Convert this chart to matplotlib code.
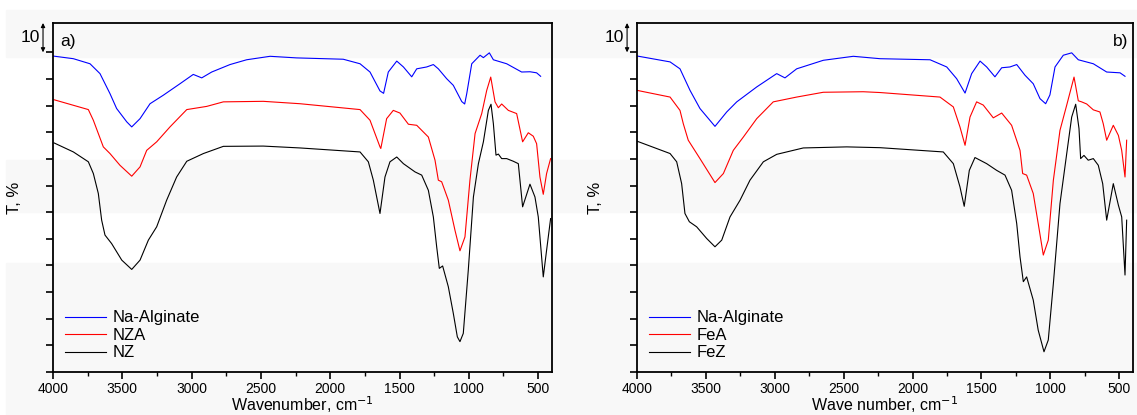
import matplotlib
matplotlib.use("Agg")
import matplotlib.pyplot as plt
from matplotlib.patches import Rectangle
from matplotlib.ticker import MultipleLocator

# ---- panel a) ----
wn_alg_a = [4000, 3853, 3733, 3661, 3589, 3541, 3468, 3432, 3372, 3300, 3204, 3084, 2988, 2927,
            2855, 2723, 2603, 2434, 2242, 1906, 1785, 1713, 1641, 1615, 1581, 1520, 1472, 1412,
            1376, 1304, 1256, 1220, 1160, 1112, 1051, 1030, 1015, 979, 919, 895, 852, 823, 727,
            619, 559, 511, 482]
t_alg_a = [118.6, 117.6, 115.7, 112.0, 104.5, 98.9, 93.9, 92.0, 95.1, 100.7, 103.9, 108.2, 111.7,
           110.4, 112.6, 115.4, 117.2, 118.5, 117.9, 117.4, 115.7, 112.6, 105.5, 104.6, 112.6,
           116.7, 114.5, 110.8, 113.8, 114.5, 115.4, 113.8, 110.1, 107.6, 101.5, 100.6, 104.5,
           115.7, 118.9, 118.0, 119.8, 117.2, 115.7, 112.6, 112.7, 112.3, 111.0]

wn_nza = [3993, 3745, 3709, 3637, 3589, 3517, 3432, 3372, 3324, 3252, 3156, 3035, 2891, 2771,
          2483, 2218, 1785, 1713, 1641, 1635, 1593, 1545, 1497, 1436, 1376, 1292, 1244, 1220,
          1196, 1148, 1100, 1064, 1028, 992, 955, 907, 871, 842, 811, 787, 763, 715, 655, 612,
          571, 535, 511, 487, 463, 439, 410]
t_nza = [102.2, 98.5, 94.5, 84.5, 82.0, 77.6, 73.5, 77.0, 83.2, 86.4, 92.0, 98.5, 99.7, 101.4,
         101.6, 100.7, 98.5, 94.5, 84.5, 83.9, 95.1, 98.2, 97.2, 93.0, 92.6, 88.2, 79.5, 72.0,
         71.4, 64.5, 53.2, 45.5, 50.7, 72.0, 89.5, 97.0, 105.7, 110.7, 101.4, 99.2, 100.6, 98.2,
         97.0, 86.4, 89.8, 88.5, 85.7, 73.2, 66.7, 74.5, 80.1]

wn_nz = [3993, 3853, 3745, 3709, 3673, 3649, 3625, 3577, 3504, 3432, 3372, 3312, 3252, 3180,
         3108, 3035, 2915, 2771, 2483, 2218, 1785, 1725, 1689, 1641, 1605, 1569, 1520, 1472,
         1388, 1340, 1292, 1256, 1232, 1213, 1189, 1148, 1112, 1083, 1064, 1040, 1004, 967, 931,
         895, 859, 840, 823, 804, 787, 763, 727, 679, 643, 612, 559, 523, 499, 463, 439, 410]
t_nz = [86.0, 82.6, 78.9, 74.5, 67.0, 57.0, 51.4, 48.2, 42.0, 38.5, 42.0, 49.5, 54.5, 64.5, 73.2,
        79.1, 82.0, 84.7, 84.8, 84.1, 82.6, 78.9, 72.0, 59.5, 73.2, 78.9, 80.7, 78.2, 75.1, 73.9,
        68.2, 58.2, 47.0, 38.9, 39.8, 32.0, 22.0, 13.2, 11.4, 14.5, 38.2, 65.7, 78.2, 86.4, 98.2,
        100.5, 93.2, 81.4, 81.8, 80.1, 80.1, 79.1, 78.2, 62.0, 70.5, 65.7, 58.2, 35.7, 45.7, 57.6]

# ---- panel b) ----
wn_alg_b = [3998, 3760, 3688, 3615, 3543, 3434, 3349, 3276, 3131, 2986, 2926, 2841, 2648, 2430,
            2236, 1873, 1752, 1680, 1619, 1571, 1510, 1462, 1402, 1353, 1293, 1244, 1184, 1124,
            1075, 1034, 1003, 966, 906, 845, 797, 688, 591, 494, 458]
t_alg_b = [118.6, 116.4, 113.8, 105.7, 98.9, 92.2, 97.6, 101.4, 107.0, 112.0, 110.4, 113.8,
           117.0, 118.5, 117.6, 117.2, 114.5, 110.1, 104.7, 112.0, 116.7, 114.5, 110.8, 114.2,
           114.5, 115.4, 111.4, 108.2, 102.6, 100.7, 104.0, 114.5, 118.9, 119.8, 117.2, 115.7,
           112.6, 112.3, 111.0]

wn_fea = [3998, 3760, 3688, 3664, 3628, 3543, 3434, 3373, 3301, 3228, 3131, 3011, 2841, 2648,
          2358, 2236, 1801, 1704, 1656, 1619, 1583, 1535, 1487, 1414, 1353, 1281, 1220, 1201,
          1172, 1124, 1080, 1051, 1015, 978, 930, 881, 828, 797, 773, 736, 688, 640, 616, 591,
          543, 506, 482, 458, 446]
t_fea = [105.7, 103.2, 98.2, 93.2, 87.0, 80.1, 71.1, 74.5, 83.2, 88.2, 95.1, 101.4, 103.2, 105.0,
         105.2, 104.9, 103.2, 99.5, 92.0, 85.1, 95.7, 101.4, 100.2, 95.4, 97.2, 92.6, 83.2, 74.5,
         73.9, 67.0, 53.2, 43.9, 49.5, 72.0, 90.7, 100.2, 110.7, 101.8, 101.4, 100.6, 98.4, 97.6,
         93.2, 87.0, 92.6, 88.8, 83.2, 73.2, 87.0]

wn_fez = [3998, 3760, 3712, 3676, 3652, 3620, 3567, 3494, 3434, 3385, 3325, 3252, 3180, 3083,
          2986, 2793, 2478, 2236, 1777, 1704, 1656, 1625, 1588, 1547, 1462, 1390, 1329, 1281,
          1244, 1220, 1196, 1172, 1124, 1088, 1046, 1015, 978, 930, 881, 845, 816, 792, 780, 756,
          725, 688, 652, 620, 591, 543, 506, 482, 458, 446]
t_fez = [86.6, 82.0, 78.9, 70.7, 59.5, 56.4, 54.5, 50.1, 47.0, 49.5, 58.2, 64.5, 72.0, 78.9, 81.7,
         84.1, 84.5, 84.2, 82.6, 78.2, 69.5, 62.2, 75.7, 80.5, 78.2, 75.7, 73.9, 68.2, 55.7, 43.2,
         33.9, 35.7, 27.0, 15.7, 7.6, 12.0, 33.2, 63.2, 82.0, 95.7, 100.5, 91.4, 80.1, 81.3, 79.5,
         80.1, 77.6, 70.7, 57.0, 70.7, 62.6, 58.2, 36.4, 57.0]

plt.rcParams['font.family'] = ['Liberation Sans', 'DejaVu Sans']

W, H = 1137, 415
fig = plt.figure(figsize=(W / 100, H / 100), dpi=100)

# faint horizontal background bands (pixel rows), kept behind the axes
for y0, y1 in [(10, 57), (160, 212), (263, 415)]:
    fig.patches.append(Rectangle((6 / W, 1 - y1 / H), 1 - 6 / W, (y1 - y0) / H,
                                 transform=fig.transFigure, color='#f8f8f8', zorder=-10))

panels = [
    dict(rect=[53 / W, 43 / H, 499 / W, 349 / H], label='a)',
         series=[(wn_alg_a, t_alg_a, 'Na-Alginate', '#0000ff'),
                 (wn_nza, t_nza, 'NZA', '#ff0000'),
                 (wn_nz, t_nz, 'NZ', '#000000')],
         xlabel='Wavenumber, cm$^{-1}$', ylab_x=-0.062),
    dict(rect=[637 / W, 43 / H, 496 / W, 349 / H], label='b)',
         series=[(wn_alg_b, t_alg_b, 'Na-Alginate', '#0000ff'),
                 (wn_fea, t_fea, 'FeA', '#ff0000'),
                 (wn_fez, t_fez, 'FeZ', '#000000')],
         xlabel='Wave number, cm$^{-1}$', ylab_x=-0.069),
]

for p in panels:
    ax = fig.add_axes(p['rect'])
    ax.patch.set_alpha(0)
    for wn, t, name, col in p['series']:
        ax.plot(wn, t, color=col, lw=0.8, label=name)
    ax.set_xlim(4000, 400)
    ax.set_ylim(0, 131)
    ax.xaxis.set_major_locator(MultipleLocator(500))
    ax.xaxis.set_minor_locator(MultipleLocator(250))
    ax.tick_params(axis='both', which='major', direction='out', length=5, width=1.2,
                   labelsize=10, pad=2, top=False, right=False)
    ax.tick_params(axis='x', which='minor', direction='out', length=3, width=1.0)
    ax.set_yticks(range(0, 130, 10))
    ax.set_yticklabels([])
    for s in ax.spines.values():
        s.set_linewidth(1.3)
    ax.set_xlabel(p['xlabel'], fontsize=11.5, labelpad=-1)
    ax.set_ylabel('T, %', fontsize=12)
    ax.yaxis.set_label_coords(p['ylab_x'], 0.5)

    # scale bar: 10 %T
    ax.annotate('', xy=(-0.02, 120), xytext=(-0.02, 131), xycoords=('axes fraction', 'data'),
                arrowprops=dict(arrowstyle='<|-|>', color='black', lw=0.8,
                                mutation_scale=6, shrinkA=0, shrinkB=0), annotation_clip=False)
    ax.text(-0.026, 125.5, '10', transform=ax.get_yaxis_transform(), ha='right', va='center',
            fontsize=12.5)

    if p['label'] == 'a)':
        ax.text(0.014, 0.948, p['label'], transform=ax.transAxes, ha='left', va='center',
                fontsize=12.5)
    else:
        ax.text(0.99, 0.948, p['label'], transform=ax.transAxes, ha='right', va='center',
                fontsize=12.5)

    ax.legend(loc='lower left', frameon=False, fontsize=12, handlelength=2.5,
              handletextpad=0.4, labelspacing=0.15, borderaxespad=0.3, bbox_to_anchor=(0, 0))

fig.savefig('out.png', dpi=100, facecolor='white')
